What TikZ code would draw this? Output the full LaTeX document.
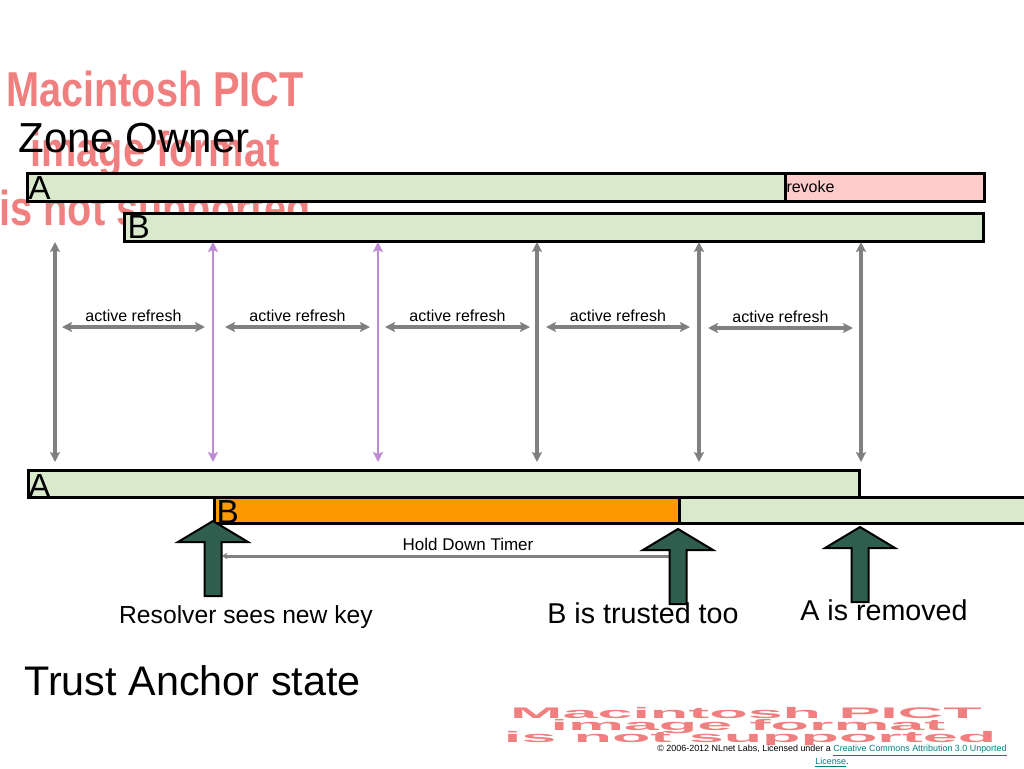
\documentclass[tikz,border=0pt]{standalone}
\usepackage{fontspec}
\setmainfont{Liberation Sans}
\usetikzlibrary{arrows.meta}

\tikzset{every picture/.style={line width=0.75pt}}
\tikzset{
  keybar/.style={draw={rgb, 255:red, 0; green, 0; blue, 0 }, line width=2.25pt},
  barletter/.style={anchor=base west, inner sep=0pt, font=\fontsize{25}{30}\selectfont},
  pictlabel/.style={anchor=base, inner sep=0pt, text={rgb, 255:red, 240; green, 128; blue, 128 }},
  refresh/.style={draw={rgb, 255:red, 128; green, 128; blue, 128 }, line width=2.4pt, >={Stealth[length=7.5pt,width=7.5pt,inset=1.5pt]}, <->},
  newkey/.style={refresh, draw={rgb, 255:red, 190; green, 140; blue, 210 }, line width=2.2pt},
  refreshlabel/.style={above, inner sep=4pt, outer sep=0pt, font=\fontsize{12}{14}\selectfont},
  holddown/.style={draw={rgb, 255:red, 128; green, 128; blue, 128 }, line width=2.25pt, >={Stealth[length=4pt,width=5pt]}, <-},
  eventlabel/.style={anchor=base, inner sep=0pt, font=\fontsize{21.5}{26}\selectfont},
  pics/keyup/.style={code={
    \draw [fill={rgb, 255:red, 47; green, 94; blue, 78 }, line width=1.5pt]
      (0,0) -- (35,-21) -- (8.5,-21) -- (8.5,-75) -- (-8.5,-75) -- (-8.5,-21) -- (-35,-21) -- cycle ;
  }}
}

\begin{document}
\begin{tikzpicture}[x=0.75pt,y=0.75pt,yscale=-1,xscale=1]
\useasboundingbox (0,0) rectangle (1024,768);

% Text Node: placeholder, top left
\node [pictlabel, xscale=0.81, font=\bfseries\fontsize{36.75}{44}\selectfont] (pictA1) at (155,106) {Macintosh PICT};
\node [pictlabel, xscale=0.81, font=\bfseries\fontsize{36.75}{44}\selectfont] (pictA2) at (155,166) {image format};
\node [pictlabel, xscale=0.81, font=\bfseries\fontsize{36.75}{44}\selectfont] (pictA3) at (155,225) {is not supported};
% Text Node: placeholder, bottom right
\node [pictlabel, xscale=4.1, font=\bfseries\fontsize{11.5}{13}\selectfont] (pictB1) at (746,718) {Macintosh PICT};
\node [pictlabel, xscale=4.1, font=\bfseries\fontsize{11.5}{13}\selectfont] (pictB2) at (748,730) {image format};
\node [pictlabel, xscale=4.1, font=\bfseries\fontsize{11.5}{13}\selectfont] (pictB3) at (750,742) {is not supported};

% Text Node
\node [anchor=base west, inner sep=0pt, font=\fontsize{31.5}{36}\selectfont] (owner) at (18,152) {Zone Owner};

%Shape: Rectangle, zone owner keys
\draw [keybar, fill={rgb, 255:red, 216; green, 233; blue, 204 }] (27,173) rectangle (785,201) ;
\draw [keybar, fill={rgb, 255:red, 255; green, 204; blue, 204 }] (785,173) rectangle (984,201) ;
\draw [keybar, fill={rgb, 255:red, 216; green, 233; blue, 204 }] (124,213) rectangle (983,241) ;
\node [barletter] (ownA) at (28,199) {A};
\node [barletter] (ownB) at (127,238) {B};
\node [anchor=west, inner sep=0pt, font=\fontsize{12}{14}\selectfont] (revoke) at (786,187) {revoke};

%Straight Lines: polls
\foreach \x/\s [count=\i] in {55/refresh,213/newkey,378/newkey,537/refresh,699/refresh,861/refresh}{
  \coordinate (top\i) at (\x,242);
  \coordinate (bot\i) at (\x,462);
  \draw [\s] (top\i) -- (bot\i) ;
}
%Straight Lines: refresh intervals
\foreach \a/\b/\y [count=\i] in {62/205/327,225/370/327,385/530/327,546/690/327,708/853/328}{
  \coordinate (rl\i) at (\a,\y);
  \coordinate (rr\i) at (\b,\y);
  \draw [refresh] (rl\i) -- node [refreshlabel] (rt\i) {active refresh} (rr\i) ;
}

%Shape: Rectangle, trust anchor keys
\draw [keybar, fill={rgb, 255:red, 255; green, 153; blue, 0 }] (214,497) rectangle (679,523) ;
\draw [keybar, fill={rgb, 255:red, 216; green, 233; blue, 204 }] (679,497) rectangle (1030,523) ;
\draw [keybar, fill={rgb, 255:red, 216; green, 233; blue, 204 }] (28,470) rectangle (859,497) ;
\node [barletter] (taA) at (28,497) {A};
\node [barletter] (taB) at (216,523) {B};

%Straight Lines: hold down
\coordinate (hdl) at (222,556);
\coordinate (hdr) at (676,556);
\draw [holddown] (hdl) -- (hdr) ;
\node [anchor=base, inner sep=0pt, font=\fontsize{12.75}{15}\selectfont] (hdt) at (468,550) {Hold Down Timer};

%Shape: Up Arrow
\pic (seen) at (213,521) {keyup};
\pic (trusted) at (678,529) {keyup};
\pic (removed) at (860,527) {keyup};

% Text Node
\node [eventlabel, font=\fontsize{18.5}{22}\selectfont] (seenlbl) at (246,623) {Resolver sees new key};
\node [eventlabel] (trustedlbl) at (643,623) {B is trusted too};
\node [eventlabel] (removedlbl) at (884,620) {A is removed};
\node [anchor=base west, inner sep=0pt, font=\fontsize{31}{36}\selectfont] (state) at (24,695) {Trust Anchor state};

% Text Node: licence line
\node [anchor=north, inner sep=0pt, align=center, font=\fontsize{6.7}{8}\selectfont] (credit) at (832,745)
  {© 2006-2012 NLnet Labs, Licensed under a \textcolor[RGB]{0,128,128}{\underline{Creative Commons Attribution 3.0 Unported}}\\\textcolor[RGB]{0,128,128}{\underline{License}}.};

\end{tikzpicture}
\end{document}
